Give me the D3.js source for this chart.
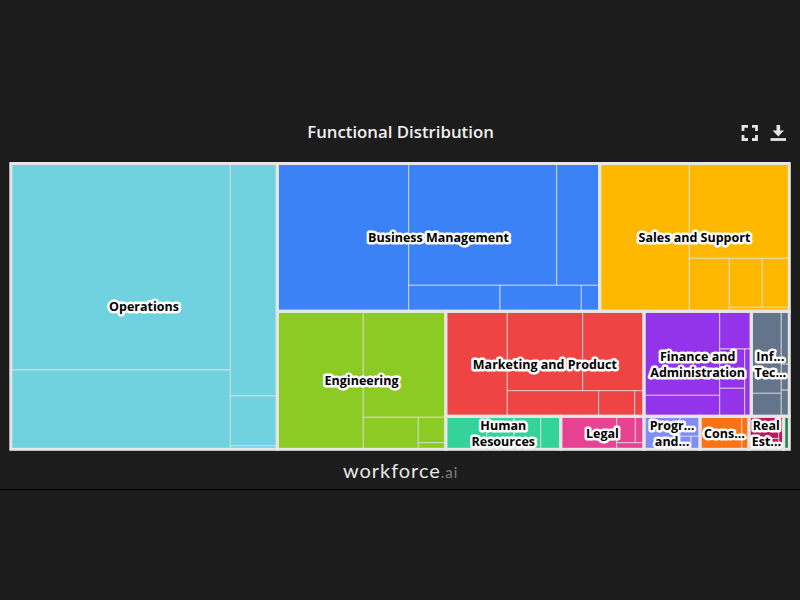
<!DOCTYPE html>
<html>
<head>
<meta charset="utf-8">
<script src="https://cdn.jsdelivr.net/npm/d3@7"></script>
<style>
    html, body { margin: 0; padding: 0; background: #1c1c1c; }
    svg { display: block; }
</style>
</head>
<body>
<div class="chart"></div>
<script>
var chartTitle = "Functional Distribution";

var functions = [
    "Operations", "Business Management", "Sales and Support", "Engineering",
    "Marketing and Product", "Finance and Administration", "Information Technology",
    "Human Resources", "Legal", "Program and Project Management", "Consulting",
    "Real Estate", "Other"
];

// text as it is shown in the boxes, some get cut off
var shownLabels = [
    ["Operations"], ["Business Management"], ["Sales and Support"], ["Engineering"],
    ["Marketing and Product"], ["Finance and", "Administration"], ["Inf...", "Tec..."],
    ["Human", "Resources"], ["Legal"], ["Progr...", "and..."], ["Cons..."],
    ["Real", "Est..."], []
];

var functionColors = [
    "#70d1df", "#3b82f6", "#ffb800", "#8ccb24", "#ef4444", "#9333ea", "#64748b",
    "#34d399", "#e84393", "#818cf8", "#f97316", "#be185d", "#15803d"
];

// sub function sizes, same order as functions
var operationsValues = [45327, 17406, 10928, 2336, 169];
var businessValues = [19421, 18026, 5237, 2374, 2114, 478];
var salesValues = [13243, 9480, 2120, 1617, 1323, 240];
var engineeringValues = [11868, 8745, 1760, 698, 182];
var marketingValues = [6458, 5987, 4867, 2340, 922, 238];
var financeValues = [6359, 1590, 1191, 982, 700, 444];
var itValues = [2460, 690, 424, 208, 210];
var hrValues = [1353, 901, 881, 660];
var legalValues = [1848, 491, 230, 180];
var programValues = [1188, 400, 143, 117];
var consultingValues = [1376, 160, 81];
var realEstateValues = [660, 323, 162];
var otherValues = [185];

var subValues = [
    operationsValues, businessValues, salesValues, engineeringValues, marketingValues,
    financeValues, itValues, hrValues, legalValues, programValues, consultingValues,
    realEstateValues, otherValues
];

var svg = d3.select(".chart").append("svg")
    .attr("width", 800)
    .attr("height", 600);

svg.append("line")
    .attr("x1", 0).attr("x2", 800)
    .attr("y1", 489.5).attr("y2", 489.5)
    .attr("stroke", "#000");

svg.append("text")
    .attr("x", 400.5)
    .attr("y", 138)
    .attr("text-anchor", "middle")
    .attr("fill", "#f0f0f0")
    .style("font", "600 16.8px 'Open Sans'")
    .text(chartTitle);

// strips flip between column and row, a strip grows as long as
// the last box in it keeps getting closer to a square
var stripTile = function(parent, x0, y0, x1, y1) {
    var scale = (x1 - x0) * (y1 - y0) / parent.value;
    var direction = 0;
    var strip = [];
    var total = 0;

    var aspect = function(a, b) { return Math.max(a / b, b / a); };

    var placeStrip = function() {
        var pos;
        if (direction == 0) {
            var width = total / (y1 - y0);
            pos = y0;
            strip.forEach(function(node) {
                node.x0 = x0;
                node.x1 = x0 + width;
                node.y0 = pos;
                pos += node.value * scale / width;
                node.y1 = pos;
            });
            x0 += width;
        } else {
            var height = total / (x1 - x0);
            pos = x0;
            strip.forEach(function(node) {
                node.y0 = y0;
                node.y1 = y0 + height;
                node.x0 = pos;
                pos += node.value * scale / height;
                node.x1 = pos;
            });
            y0 += height;
        }
    };

    parent.children.forEach(function(node) {
        var area = node.value * scale;
        if (strip.length > 0) {
            var last = strip[strip.length - 1].value * scale;
            var side = direction == 0 ? y1 - y0 : x1 - x0;
            var before = total / side;
            var after = (total + area) / side;
            if (aspect(after, last / after) > aspect(before, last / before)) {
                placeStrip();
                direction = 1 - direction;
                strip = [];
                total = 0;
            }
        }
        strip.push(node);
        total += area;
    });
    placeStrip();
};

var root = d3.hierarchy({
    children: functions.map(function(name, i) {
        return {
            name: name,
            index: i,
            children: subValues[i].map(function(v) { return { value: v }; })
        };
    })
}).sum(function(d) { return d.value; });

d3.treemap()
    .size([778.5, 285.8])
    .tile(stripTile)(root);

var plot = svg.append("g")
    .attr("transform", "translate(10.8,163.5)");

plot.selectAll(".leaf")
    .data(root.leaves())
    .enter()
    .append("rect")
    .attr("class", "leaf")
    .attr("x", function(d) { return d.x0; })
    .attr("y", function(d) { return d.y0; })
    .attr("width", function(d) { return d.x1 - d.x0; })
    .attr("height", function(d) { return d.y1 - d.y0; })
    .attr("fill", function(d) { return functionColors[d.parent.data.index]; })
    .attr("stroke", "#e6e6e6")
    .attr("stroke-opacity", 0.75)
    .attr("stroke-width", 1);

plot.selectAll(".group")
    .data(root.children)
    .enter()
    .append("rect")
    .attr("class", "group")
    .attr("x", function(d) { return d.x0; })
    .attr("y", function(d) { return d.y0; })
    .attr("width", function(d) { return d.x1 - d.x0; })
    .attr("height", function(d) { return d.y1 - d.y0; })
    .attr("fill", "none")
    .attr("stroke", "#e6e6e6")
    .attr("stroke-width", 3);

var labels = plot.selectAll(".label")
    .data(root.children)
    .enter()
    .append("text")
    .attr("class", "label")
    .attr("text-anchor", "middle")
    .attr("fill", "#000")
    .attr("stroke", "#fff")
    .attr("stroke-width", 5)
    .attr("stroke-linejoin", "round")
    .attr("paint-order", "stroke")
    .style("font", "700 12.5px 'Open Sans'");

labels.selectAll("tspan")
    .data(function(d) {
        var lines = shownLabels[d.data.index];
        return lines.map(function(line, i) {
            return {
                text: line,
                x: (d.x0 + d.x1) / 2,
                y: (d.y0 + d.y1) / 2 + (i - (lines.length - 1) / 2) * 16 + 5
            };
        });
    })
    .enter()
    .append("tspan")
    .attr("x", function(d) { return d.x; })
    .attr("y", function(d) { return d.y; })
    .text(function(d) { return d.text; });

// fullscreen and download icons
var icons = svg.append("g")
    .attr("fill", "none")
    .attr("stroke", "#e4e4e4")
    .attr("stroke-width", 2.8);

icons.append("path")
    .attr("d", "M743 131V126.4H748M752 126.4H756.5V131M756.5 135V139.5H752M748 139.5H743V135");

icons.append("path")
    .attr("d", "M770.5 139.5H786");

icons.append("path")
    .attr("d", "M778.3 125V133")
    .attr("stroke-width", 3.6);

icons.append("path")
    .attr("d", "M772.5 130.5H784L778.3 136.5Z")
    .attr("fill", "#e4e4e4")
    .attr("stroke", "none");

var logo = svg.append("text")
    .attr("x", 343)
    .attr("y", 478)
    .attr("fill", "#e6e6e6")
    .style("font", "400 20px Lato")
    .style("letter-spacing", "0.95px");

logo.append("tspan").text("workforce");
logo.append("tspan").attr("fill", "#808080").style("font-size", "15px").text(".ai");
</script>
</body>
</html>
